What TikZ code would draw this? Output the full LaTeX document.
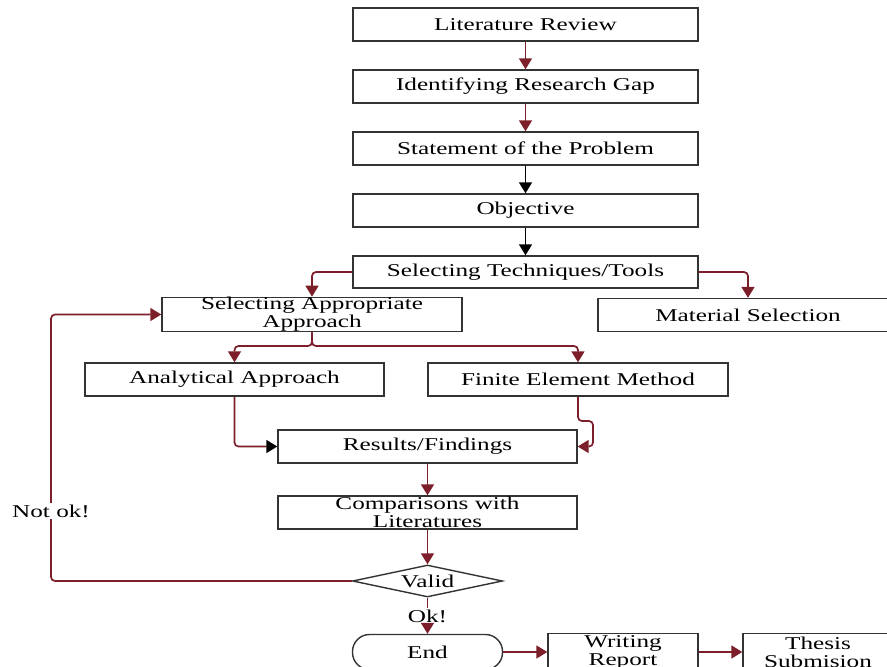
\documentclass[tikz,border=0pt]{standalone}
\usepackage{fontspec}
\setmainfont{Liberation Serif}[FakeStretch=1.4]
\usetikzlibrary{arrows.meta,shapes.geometric}
\definecolor{lnred}{RGB}{124,31,42}
\begin{document}
\begin{tikzpicture}[x=1pt,y=-1pt,
  box/.style={draw=black!80, line width=1.4pt, fill=white, inner xsep=2pt, inner ysep=0pt,
    minimum height=33, align=center, font=\fontsize{18}{18}\selectfont},
  lbl/.style={fill=white, inner sep=1.5pt, font=\fontsize{18}{18}\selectfont},
  redplain/.style={draw=lnred, line width=1.7pt},
  redln/.style={draw=lnred, line width=1.7pt, -{Triangle[length=11pt,width=13pt]}},
  redblk/.style={draw=lnred, line width=1.7pt, -{Triangle[length=11pt,width=13pt,color=black]}},
  blkln/.style={draw=black, line width=1.7pt, -{Triangle[length=11pt,width=13pt]}}
]
\useasboundingbox (0,0) rectangle (887,667);
\clip (0,0) rectangle (887,667);

\node[box, minimum width=345] (lr) at (525.5,24.5) {Literature Review};
\node[box, minimum width=345] (irg) at (525.5,86.5) {Identifying Research Gap};
\node[box, minimum width=345] (sop) at (525.5,148.5) {Statement of the Problem};
\node[box, minimum width=345] (obj) at (525.5,210.5) {Objective};
\node[box, minimum width=345, minimum height=32] (stt) at (525.5,272) {Selecting Techniques/Tools};
\node[box, minimum width=300] (saa) at (312,314.5) {Selecting Appropriate\\Approach};
\node[box, minimum width=300] (ms) at (748,315) {Material Selection};
\node[box, minimum width=299] (aa) at (234.5,379.5) {Analytical Approach};
\node[box, minimum width=300] (fem) at (578,379.5) {Finite Element Method};
\node[box, minimum width=299] (rf) at (427.5,446.5) {Results/Findings};
\node[box, minimum width=299] (cl) at (427.5,512.5) {Comparisons with\\Literatures};
\node[box, diamond, shape aspect=4.7, minimum width=150, minimum height=32] (valid) at (427.5,581) {Valid};
\node[box, rounded corners=17, minimum width=150, minimum height=35] (end) at (427.5,652) {End};
\node[box, minimum width=150, minimum height=37] (wr) at (623,652) {Writing\\Report};
\node[box, minimum width=150, minimum height=37] (ts) at (818,652) {Thesis\\Submision};
\node[lbl] (nok) at (51,511) {Not ok!};
\node[lbl] (ok) at (427.5,616) {Ok!};

\coordinate (sj) at (312,346);
\coordinate (fj) at (593,421);

\draw[redln] (lr.south) -- (irg.north);
\draw[redln] (irg.south) -- (sop.north);
\draw[blkln] (sop.south) -- (obj.north);
\draw[blkln] (obj.south) -- (stt.north);
\draw[redln, rounded corners=4] (stt.west) -| (saa.north);
\draw[redln, rounded corners=4] (stt.east) -| (ms.north);
\draw[redln, rounded corners=4] (saa.south) -- (sj) -| (aa.north);
\draw[redln, rounded corners=4] (saa.south) -- (sj) -| (fem.north);
\draw[redblk, rounded corners=4] (aa.south) |- (rf.west);
\draw[redln, rounded corners=4] (fem.south) |- (fj) |- (rf.east);
\draw[redln] (rf.south) -- (cl.north);
\draw[redln] (cl.south) -- (valid.north);
\draw[redplain] (valid.south) -- (ok.north);
\draw[redln] (ok.south) -- (end.north);
\draw[redln] (end.east) -- (wr.west);
\draw[redln] (wr.east) -- (ts.west);
\draw[redplain, rounded corners=4] (valid.west) -| (nok.south);
\draw[redln, rounded corners=4] (nok.north) |- (saa.west);
\end{tikzpicture}
\end{document}
